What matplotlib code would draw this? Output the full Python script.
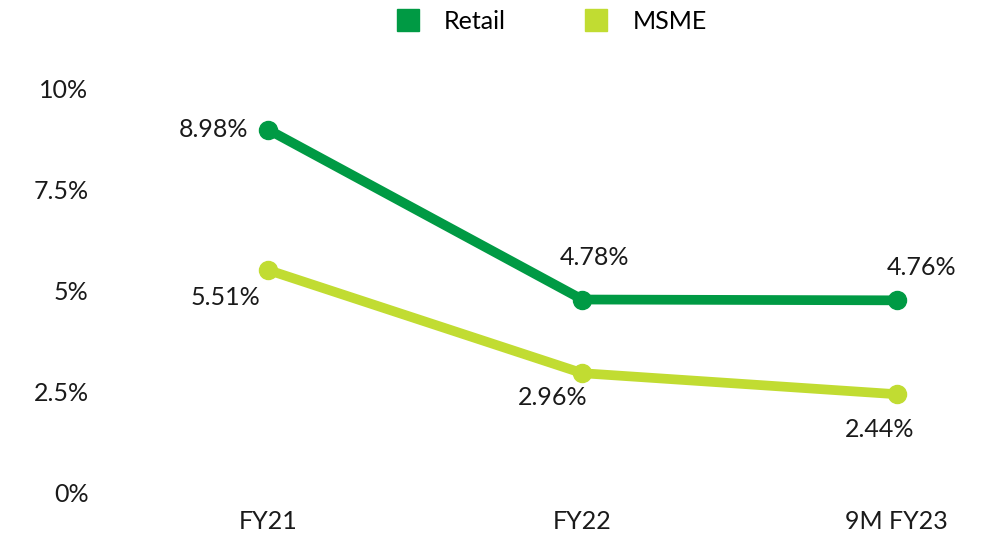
import matplotlib.pyplot as plt
from matplotlib.lines import Line2D

plt.rcParams['font.family'] = ['Lato', 'DejaVu Sans']

periods = ["FY21", "FY22", "9M FY23"]
retail = [8.98, 4.78, 4.76]
msme = [5.51, 2.96, 2.44]
y_ticks = [0, 2.5, 5, 7.5, 10]
y_tick_labels = ["0%", "2.5%", "5%", "7.5%", "10%"]

RETAIL_C = "#009a44"
MSME_C = "#c1dc32"
TEXT_C = "#1a1a1a"
FS = 18

fig = plt.figure(figsize=(9.96, 5.39), dpi=100)
ax = fig.add_axes([110.75 / 996, 46 / 539, (991 - 110.75) / 996, (493 - 68) / 539])

x = list(range(len(periods)))
ax.plot(x, retail, color=RETAIL_C, lw=7, marker="o", ms=13, solid_capstyle="round", zorder=3)
ax.plot(x, msme, color=MSME_C, lw=7, marker="o", ms=13, solid_capstyle="round", zorder=3)

# label offsets in pixels (dx, dy, ha)
retail_off = [(-20, 0, "right"), (12, 42, "center"), (25, 33, "center")]
msme_off = [(-43, -28, "center"), (-30, -24, "center"), (-17, -35, "center")]

for i, v in enumerate(retail):
    dx, dy, ha = retail_off[i]
    ax.annotate(f"{v:.2f}%", (i, v), xytext=(dx, dy), textcoords="offset pixels",
                ha=ha, va="center", fontsize=FS, color=TEXT_C)
for i, v in enumerate(msme):
    dx, dy, ha = msme_off[i]
    ax.annotate(f"{v:.2f}%", (i, v), xytext=(dx, dy), textcoords="offset pixels",
                ha=ha, va="center", fontsize=FS, color=TEXT_C)

ax.set_xlim(-0.5, 2.3)
ax.set_ylim(0, 10.5)
ax.set_xticks(x)
ax.set_xticklabels(periods)
ax.set_yticks(y_ticks)
ax.set_yticklabels(y_tick_labels)
ax.tick_params(length=0, labelsize=FS, colors=TEXT_C)
ax.tick_params(axis="y", pad=16)
ax.tick_params(axis="x", pad=12)
for s in ax.spines.values():
    s.set_visible(False)

handles = [
    Line2D([], [], color=RETAIL_C, marker="s", ls="none", ms=16),
    Line2D([], [], color=MSME_C, marker="s", ls="none", ms=16),
]
fig.legend(handles, ["Retail", "MSME"], loc="center", bbox_to_anchor=(0.547, 0.961),
           ncol=2, frameon=False, fontsize=FS, handletextpad=0.45, columnspacing=2.6)

fig.savefig("out.png", dpi=100)
